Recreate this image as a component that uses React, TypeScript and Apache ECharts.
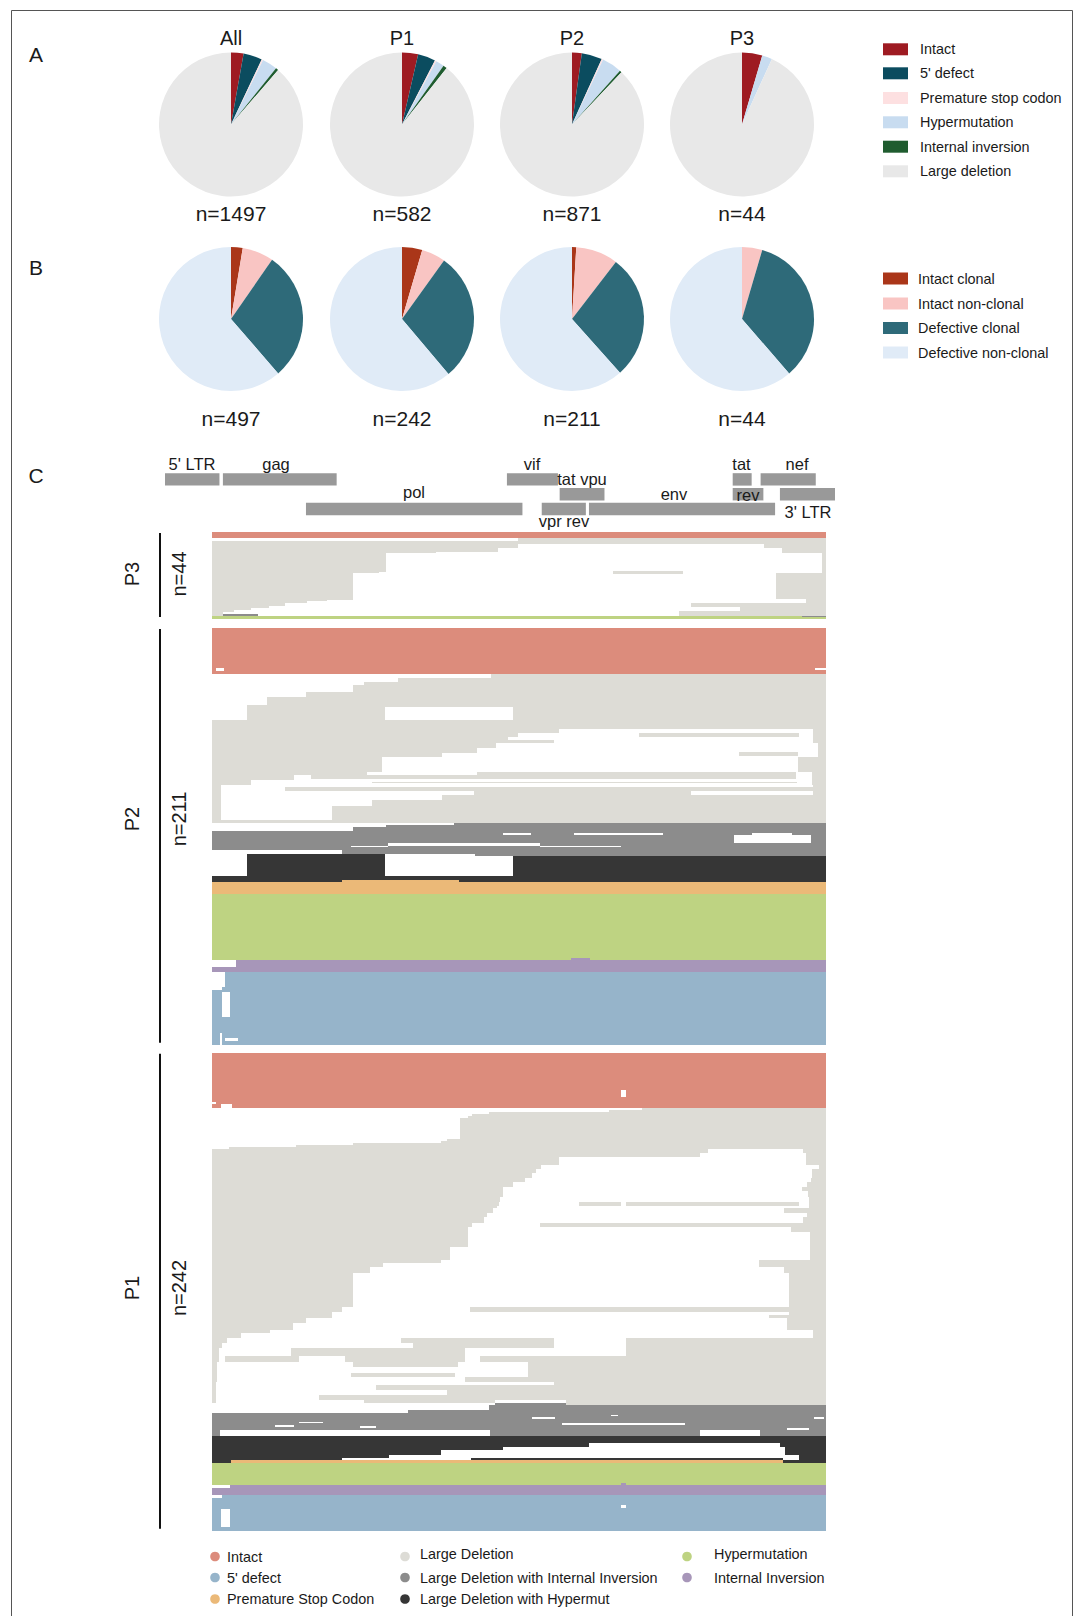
import React, { useEffect, useRef } from "react";
import * as echarts from "echarts";

const FONT = "'Liberation Sans', Arial, Helvetica, sans-serif";

// ---------------- Panel A: sequence categories per participant ----------------
const pieGroups = ["All", "P1", "P2", "P3"];
const catA = ["Intact", "5' defect", "Premature stop codon", "Hypermutation", "Internal inversion", "Large deletion"];
const colA = ["#9e1b22", "#0b4c5f", "#fde0e1", "#c8dcf0", "#1f5c2f", "#e8e8e8"];
const aAll = [42, 63, 5, 51, 9, 1327];
const aP1 = [21, 23, 2, 11, 5, 520];
const aP2 = [19, 40, 3, 39, 4, 766];
const aP3 = [2, 0, 0, 1, 0, 41];

// ---------------- Panel B: clonality ----------------
const catB = ["Intact clonal", "Intact non-clonal", "Defective clonal", "Defective non-clonal"];
const colB = ["#aa3619", "#f9c5c3", "#2e6a79", "#e0ebf7"];
const bAll = [13, 35, 144, 305];
const bP1 = [11, 13, 70, 148];
const bP2 = [2, 20, 59, 130];
const bP3 = [0, 2, 15, 27];

// ---------------- Panel C: genome map ----------------
const GENOME = 9719;
// name, start, end, row, label anchor (bp), label side
const genes: [string, number, number, number, number, string][] = [
  ["5' LTR", 0, 790, 0, 392, "above"],
  ["gag", 840, 2490, 0, 1610, "above"],
  ["vif", 4960, 5700, 0, 5324, "above"],
  ["tat", 8235, 8510, 0, 8363, "above"],
  ["nef", 8640, 9440, 0, 9168, "above"],
  ["tat vpu", 5725, 6375, 1, 6049, "above"],
  ["rev", 8235, 8680, 1, 8456, "inside"],
  ["3' LTR", 8920, 9719, 1, 9327, "below"],
  ["pol", 2045, 5185, 2, 3612, "above"],
  ["vpr rev", 5465, 6105, 2, 5788, "below"],
  ["env", 6150, 8850, 2, 7383, "above"],
];

// ---------------- Panel C: sequence alignment ----------------
const seqCats = [
  "Intact",
  "Large Deletion",
  "Large Deletion with Internal Inversion",
  "Large Deletion with Hypermut",
  "Premature Stop Codon",
  "Hypermutation",
  "Internal Inversion",
  "5' defect",
];
const seqCol = ["#dc8c7c", "#dddcd6", "#8c8c8c", "#363636", "#ebb978", "#bed382", "#a796b9", "#96b4ca"];
const patients = ["P3", "P2", "P1"];
const patientN = [44, 211, 242];

// bands: [rowStart, rowEnd, startBp, endBp, category]  (category -1 = deleted / blank)
const bandsP3: number[][] = [
  [0, 2.85, 0, 9719, 0],
  [3.2, 4.4, 4841, 9719, 1],
  [4.4, 6.2, 0, 9719, 1],
  [6.2, 8.2, 0, 4841, 1], [6.2, 8.2, 8743, 9719, 1],
  [8.2, 9.9, 0, 4530, 1], [8.2, 10.75, 9028, 9719, 1],
  [9.9, 10.75, 0, 3550, 1],
  [10.75, 20.0, 0, 2762, 1],
  [10.75, 20.8, 9650, 9719, 1],
  [19.5, 21.3, 6340, 7460, 1],
  [20.0, 20.8, 0, 2650, 1],
  [20.8, 34.3, 0, 2236, 1],
  [20.8, 33.7, 8920, 9719, 1],
  [33.7, 35.9, 9404, 9719, 1],
  [34.3, 35.1, 0, 1824, 1],
  [35.1, 35.9, 0, 1501, 1],
  [35.9, 37.3, 0, 1150, 1],
  [35.9, 37.9, 7588, 9719, 1],
  [37.3, 38.5, 0, 900, 1],
  [37.9, 40.1, 8360, 9719, 1],
  [38.5, 39.6, 0, 623, 1],
  [39.6, 40.6, 0, 345, 1],
  [40.1, 42.7, 7390, 9719, 1],
  [40.6, 42.7, 0, 170, 1],
  [41.5, 42.7, 170, 735, 2],
  [42.7, 44, 0, 9340, 5],
  [42.3, 43.2, 9340, 9719, 2],
  [43.2, 44, 9340, 9719, 5],
];

const bandsP2: number[][] = [
  [0, 23.5, 0, 9719, 0],
  [20.5, 22.0, 60, 190, -1], [20.5, 21.3, 9550, 9719, -1],
  // large deletion
  [23.5, 25.5, 4420, 9719, 1],
  [25.5, 27.5, 2950, 9719, 1],
  [27.5, 29, 2400, 9719, 1],
  [29, 32.2, 2236, 9719, 1],
  [32.2, 34.8, 1490, 9719, 1],
  [34.8, 39.0, 870, 9719, 1],
  [39.0, 46.6, 550, 9719, 1],
  [46.6, 51.2, 0, 9719, 1],
  [51.2, 53.3, 0, 5500, 1], [51.2, 53.3, 9516, 9719, 1],
  [53.3, 55.4, 0, 4840, 1], [53.3, 55.4, 6762, 9291, 1], [53.3, 55.4, 9516, 9719, 1],
  [55.4, 58.4, 0, 4690, 1], [56.5, 58, 4690, 5420, 1], [55.4, 58.4, 9516, 9719, 1],
  [58.4, 60.9, 0, 4500, 1], [58.4, 60.9, 9600, 9719, 1],
  [60.9, 63.5, 0, 4200, 1], [62.6, 64.6, 8338, 9269, 1], [60.9, 65.2, 9600, 9719, 1],
  [63.5, 65.2, 0, 3640, 1],
  [65.2, 72.7, 0, 2690, 1], [65.2, 72.7, 9269, 9719, 1],
  [72.7, 74.4, 0, 2460, 1], [72.7, 74.4, 4200, 9250, 1], [72.7, 74.4, 9500, 9719, 1],
  [74.4, 77, 0, 1300, 1], [74.4, 76.6, 1560, 9250, 1], [74.4, 77, 9500, 9719, 1],
  [77, 79.5, 0, 625, 1], [77.8, 78.7, 2537, 9254, 1], [77, 79.5, 9500, 9719, 1],
  [79.5, 98.6, 0, 150, 1], [79.5, 98.6, 9516, 9719, 1],
  [80.4, 82.4, 1148, 9704, 1],
  [82.4, 84.6, 4150, 7588, 1],
  [84.6, 87, 3640, 9719, 1],
  [87, 90, 2537, 9719, 1],
  [90, 97.2, 1900, 9719, 1],
  [97.2, 98.6, 0, 9719, 1],
  [39.8, 46.6, 2740, 4758, -1],
  // large deletion with internal inversion
  [98.6, 99.9, 3835, 9719, 2],
  [99.9, 100.6, 2762, 9719, 2],
  [100.6, 102.6, 2236, 9719, 2],
  [102.6, 112.4, 0, 9719, 2],
  [112.4, 114.4, 2050, 9719, 2],
  [114.4, 115.5, 4165, 9719, 2],
  [103.9, 104.8, 4600, 5050, -1], [103.9, 104.8, 5726, 7137, -1], [103.9, 104.8, 8540, 9179, -1],
  [104.8, 109, 8260, 9480, -1],
  [109, 110.2, 2780, 5190, -1],
  [110.2, 111.1, 2200, 2780, -1], [110.2, 111.1, 5190, 6480, -1],
  // large deletion with hypermutation
  [114.4, 125.6, 548, 2740, 3],
  [115.5, 125.6, 4758, 9719, 3],
  [125.6, 128.6, 0, 9719, 3],
  // premature stop
  [127.6, 128.6, 2064, 3910, 4],
  [128.6, 134.7, 0, 9719, 4],
  // hypermutation
  [134.7, 168.1, 0, 9719, 5],
  // internal inversion
  [167.1, 168.1, 5680, 5990, 6],
  [168.1, 171.4, 380, 9719, 6],
  [171.4, 174.2, 0, 9719, 6],
  // 5' defect
  [174.2, 181.6, 210, 9719, 7],
  [181.6, 211, 0, 9719, 7],
  [181.6, 183.3, 0, 165, -1],
  [184.2, 196.8, 165, 285, -1],
  [205.2, 211, 120, 160, -1],
  [207.8, 208.9, 210, 415, -1],
];

const bandsP1: number[][] = [
  [0, 28, 0, 9719, 0],
  [18.9, 22.6, 6476, 6551, -1],
  [24.9, 26, 0, 60, -1], [26, 28, 140, 320, -1],
  // large deletion: 5' staircase
  [28, 29, 6800, 9719, 1],
  [29, 30, 6290, 9719, 1],
  [30, 31, 4390, 9719, 1],
  [31, 32, 4120, 9719, 1],
  [32, 33.1, 4060, 9719, 1],
  [33.1, 43.7, 3920, 9719, 1],
  [43.7, 44.9, 3720, 9719, 1],
  [44.9, 45.9, 3625, 9719, 1],
  [45.9, 46.9, 2236, 9719, 1],
  [46.9, 47.9, 1336, 9719, 1],
  [47.9, 48.8, 270, 9719, 1],
  // internal deletions
  [48.8, 51, 0, 7850, 1], [48.8, 51, 9350, 9719, 1],
  [51, 52.6, 0, 7720, 1], [51, 52.6, 9400, 9719, 1],
  [52.6, 56.9, 0, 5500, 1], [52.6, 56.9, 9400, 9719, 1],
  [56.9, 59.1, 0, 5200, 1], [56.9, 59.1, 9610, 9719, 1],
  [59.1, 61.1, 0, 5126, 1], [59.1, 63.6, 9500, 9719, 1],
  [61.1, 63.6, 0, 5066, 1],
  [63.6, 65.3, 0, 4960, 1], [63.6, 65.3, 9480, 9719, 1],
  [65.3, 67.9, 0, 4765, 1], [65.3, 67.9, 9420, 9719, 1],
  [67.9, 72.9, 0, 4600, 1], [67.9, 70, 9340, 9719, 1], [70, 72.9, 9440, 9719, 1],
  [72.9, 75.4, 0, 4563, 1], [72.9, 78.8, 9450, 9719, 1],
  [75.4, 77.5, 0, 4540, 1], [75.4, 77.5, 5809, 6476, 1], [75.4, 77.5, 6551, 9291, 1],
  [77.5, 78.8, 0, 4510, 1],
  [78.8, 81.3, 0, 4450, 1], [78.8, 81.3, 9050, 9719, 1],
  [81.3, 83, 0, 4350, 1], [81.3, 83, 9420, 9719, 1],
  [83, 86.4, 0, 4310, 1], [83, 86.4, 9350, 9719, 1],
  [86.4, 88.5, 0, 4120, 1], [86.4, 88.5, 5186, 9719, 1],
  [88.5, 90.6, 0, 4060, 1], [88.5, 90.6, 9160, 9719, 1],
  [90.6, 98.2, 0, 4060, 1], [90.6, 105, 9470, 9719, 1],
  [98.2, 105, 0, 3775, 1],
  [105, 106.7, 0, 3625, 1], [105, 108.4, 8653, 9719, 1],
  [106.7, 108.4, 0, 2710, 1],
  [108.4, 111.7, 0, 2500, 1], [108.4, 111.7, 9050, 9719, 1],
  [111.7, 128.6, 0, 2236, 1], [111.7, 131.2, 9126, 9719, 1],
  [128.6, 131.2, 0, 2064, 1], [128.6, 131.2, 4090, 9126, 1],
  [131.2, 134.5, 0, 1900, 1], [131.2, 133, 9126, 9719, 1], [133, 134.5, 8818, 9719, 1],
  [134.5, 137.1, 0, 1486, 1], [134.5, 140.4, 9100, 9719, 1],
  [137.1, 140.4, 0, 1283, 1],
  [140.4, 142, 0, 923, 1], [140.4, 144.7, 9516, 9719, 1],
  [142, 144.7, 0, 458, 1],
  [144.7, 147.2, 0, 233, 1], [144.7, 147.2, 2995, 5411, 1], [144.7, 147.2, 6550, 9719, 1],
  [147.2, 149.7, 0, 158, 1], [147.2, 149.7, 3175, 5411, 1], [147.2, 149.7, 6550, 9719, 1],
  [149.7, 153.6, 0, 113, 1], [149.7, 153.6, 1245, 4000, 1], [149.7, 153.6, 6550, 9719, 1],
  [153.6, 156.5, 0, 113, 1], [153.6, 156.5, 208, 1373, 1], [153.6, 156.5, 2098, 4000, 1], [153.6, 156.5, 4240, 9719, 1],
  [156.5, 159, 0, 80, 1], [156.5, 159, 2236, 3900, 1], [156.5, 159, 5000, 9719, 1],
  [159, 162, 0, 80, 1], [159, 162, 5000, 9719, 1],
  [162, 164.1, 0, 80, 1], [162, 164.1, 2200, 3850, 1], [162, 164.1, 5000, 9719, 1],
  [164.1, 166.6, 0, 80, 1], [164.1, 166.6, 4000, 9719, 1],
  [166.6, 168.3, 0, 60, 1], [166.6, 168.3, 5411, 9719, 1],
  [168.3, 170.8, 0, 60, 1], [168.3, 170.8, 2600, 9719, 1],
  [170.8, 173.4, 0, 60, 1], [170.8, 173.4, 3720, 9719, 1],
  [173.4, 175.9, 0, 60, 1], [173.4, 175.9, 1700, 9719, 1],
  [175.9, 177.2, 0, 60, 1], [175.9, 177.2, 2400, 4487, 1], [175.9, 177.2, 5600, 9719, 1],
  [177.2, 178.4, 5600, 9719, 1],
  // large deletion with internal inversion
  [177.2, 178.4, 4487, 5600, 2],
  [178.4, 182.3, 4390, 9719, 2],
  [181, 182.3, 3100, 4390, 2],
  [182.3, 191, 0, 9719, 2],
  [191, 194.4, 0, 120, 2], [191, 194.4, 4400, 7720, 2], [191, 194.4, 8680, 9719, 2],
  [183.3, 184, 6310, 6430, -1], [184.4, 185.5, 5073, 5426, -1], [184.4, 185.5, 9530, 9680, -1],
  [186.8, 187.6, 1373, 1764, -1], [187.7, 188.7, 5540, 7490, -1], [188.5, 189.5, 1000, 1300, -1],
  [189, 190, 2350, 2600, -1], [190.2, 191.2, 9100, 9450, -1],
  // large deletion with hypermutation
  [194.1, 197.8, 0, 9719, 3],
  [197.8, 199.5, 0, 5974, 3], [197.8, 199.5, 8991, 9719, 3],
  [199.5, 201.2, 0, 4600, 3], [199.5, 203.7, 9066, 9719, 3],
  [201.2, 203.7, 0, 3625, 3],
  [203.7, 205.4, 0, 2800, 3], [203.7, 207.6, 9291, 9719, 3],
  [205.4, 206.2, 0, 2064, 3], [205.4, 206.2, 4100, 9040, 3],
  [206.2, 207.6, 0, 300, 3], [206.2, 207.6, 9040, 9291, 3],
  // premature stop
  [206.2, 207.6, 300, 9040, 4],
  // hypermutation
  [207.6, 218.9, 0, 9719, 5],
  [218.0, 218.9, 6476, 6551, 6],
  // internal inversion
  [218.9, 224, 0, 9719, 6],
  [218.9, 220.4, 0, 280, -1],
  // 5' defect
  [224, 242, 0, 9719, 7],
  [224, 225.5, 0, 160, -1],
  [229, 230.7, 6476, 6551, -1],
  [231.2, 240.2, 135, 285, -1],
];

const patientBands = [bandsP3, bandsP2, bandsP1];

const sum = (a: number[]) => a.reduce((s, v) => s + v, 0);

function buildOption() {
  const txt = (text: string, x: number, y: number, size: number, align = "center", vAlign = "middle", extra: any = {}) => ({
    type: "text",
    x,
    y,
    silent: true,
    ...extra,
    style: {
      text,
      x: 0,
      y: 0,
      fill: "#1a1a1a",
      font: `${size}px ${FONT}`,
      textAlign: align,
      align,
      textVerticalAlign: vAlign,
      verticalAlign: vAlign,
    },
  });

  const pieCx = [231, 402, 572, 742];
  const yA = 124.5;
  const yB = 319;
  const R = 72;
  const aData = [aAll, aP1, aP2, aP3];
  const bData = [bAll, bP1, bP2, bP3];

  const series: any[] = [];
  aData.forEach((vals, i) => {
    series.push({
      type: "pie",
      center: [pieCx[i], yA],
      radius: [0, R],
      startAngle: 90,
      clockwise: true,
      silent: true,
      label: { show: false },
      labelLine: { show: false },
      itemStyle: { borderWidth: 0 },
      data: vals.map((v, k) => ({ name: catA[k], value: v, itemStyle: { color: colA[k] } })),
    });
  });
  bData.forEach((vals, i) => {
    series.push({
      type: "pie",
      center: [pieCx[i], yB],
      radius: [0, R],
      startAngle: 90,
      clockwise: true,
      silent: true,
      label: { show: false },
      labelLine: { show: false },
      itemStyle: { borderWidth: 0 },
      data: vals.map((v, k) => ({ name: catB[k], value: v, itemStyle: { color: colB[k] } })),
    });
  });

  // grids: 0 genome map, 1..3 patients
  const plotLeft = 212;
  const plotWidth = 614;
  const rowPx = 1.975;
  const pTops = [532, 628, 1052.7];
  const grid: any[] = [{ left: 165, top: 472, width: 670, height: 44.4 }];
  const xAxis: any[] = [{ gridIndex: 0, type: "value", min: 0, max: GENOME, show: false }];
  const yAxis: any[] = [{ gridIndex: 0, type: "value", min: 0, max: 3, inverse: true, show: false }];
  patients.forEach((p, i) => {
    grid.push({ left: plotLeft, top: pTops[i], width: plotWidth, height: patientN[i] * rowPx });
    xAxis.push({ gridIndex: i + 1, type: "value", min: 0, max: GENOME, show: false });
    yAxis.push({ gridIndex: i + 1, type: "value", min: 0, max: patientN[i], inverse: true, show: false });
  });

  // small vertical nudges for some gene labels (layout only)
  const labelDy: Record<string, number> = { "vpr rev": -3.5, "3' LTR": 2.5, pol: -2 };

  series.push({
    type: "custom",
    xAxisIndex: 0,
    yAxisIndex: 0,
    silent: true,
    data: genes.map((g) => [g[1], g[2], g[3], g[4]]),
    encode: { x: [0, 1], y: 2 },
    renderItem: (params: any, api: any) => {
      const g = genes[params.dataIndex];
      const p0 = api.coord([g[1], g[3] + 0.08]);
      const p1 = api.coord([g[2], g[3] + 0.92]);
      const lx = api.coord([g[4], 0])[0];
      let ly = p0[1] - 0.5;
      let va = "bottom";
      if (g[5] === "below") {
        ly = p1[1] + 0.5;
        va = "top";
      } else if (g[5] === "inside") {
        ly = (p0[1] + p1[1]) / 2 + 0.5;
        va = "middle";
      }
      ly += labelDy[g[0]] || 0;
      return {
        type: "group",
        children: [
          {
            type: "rect",
            shape: { x: p0[0], y: p0[1], width: p1[0] - p0[0], height: p1[1] - p0[1] },
            style: { fill: "#999999" },
          },
          {
            type: "text",
            style: {
              text: g[0],
              x: lx,
              y: ly,
              fill: "#1a1a1a",
              font: `16.5px ${FONT}`,
              align: "center",
              verticalAlign: va,
              textAlign: "center",
              textVerticalAlign: va,
            },
          },
        ],
      };
    },
  });

  patientBands.forEach((bands, i) => {
    const ordered = bands.filter((b) => b[4] >= 0).concat(bands.filter((b) => b[4] < 0));
    series.push({
      type: "custom",
      xAxisIndex: i + 1,
      yAxisIndex: i + 1,
      silent: true,
      data: ordered.map((b) => [b[2], b[3], b[0], b[1], b[4]]),
      encode: { x: [0, 1], y: [2, 3] },
      renderItem: (params: any, api: any) => {
        const p0 = api.coord([api.value(0), api.value(2)]);
        const p1 = api.coord([api.value(1), api.value(3)]);
        const c = api.value(4);
        const x0 = Math.round(p0[0]);
        const x1 = Math.max(x0 + 1, Math.round(p1[0]));
        const y0 = Math.round(p0[1]);
        const y1 = Math.max(y0 + 1, Math.round(p1[1]));
        return {
          type: "rect",
          shape: { x: x0, y: y0, width: x1 - x0, height: y1 - y0 },
          style: { fill: c < 0 ? "#ffffff" : seqCol[c] },
        };
      },
    });
  });

  // graphics
  const el: any[] = [];
  el.push({
    type: "rect",
    silent: true,
    shape: { x: 11.5, y: 10.5, width: 1061, height: 1640 },
    style: { fill: "none", stroke: "#555", lineWidth: 1 },
  });
  el.push(txt("A", 36, 54, 21));
  el.push(txt("B", 36, 267, 21));
  el.push(txt("C", 36, 475, 21));
  pieGroups.forEach((g, i) => {
    el.push(txt(g, pieCx[i], 38, 20));
    el.push(txt("n=" + sum(aData[i]), pieCx[i], 213, 21));
    el.push(txt("n=" + sum(bData[i]), pieCx[i], 418, 21));
  });
  const legAy = [49.3, 73.3, 98, 122.3, 146.7, 171.3];
  catA.forEach((c, k) => {
    el.push({ type: "rect", silent: true, shape: { x: 883, y: legAy[k] - 6, width: 25, height: 12 }, style: { fill: colA[k] } });
    el.push(txt(c, 920, legAy[k], 14.4, "left"));
  });
  const legBy = [278.5, 303.5, 328, 352.5];
  catB.forEach((c, k) => {
    el.push({ type: "rect", silent: true, shape: { x: 883, y: legBy[k] - 6, width: 25, height: 12 }, style: { fill: colB[k] } });
    el.push(txt(c, 918, legBy[k], 14.4, "left"));
  });

  // patient labels
  const labelMid = [574, 819, 1288];
  patients.forEach((p, i) => {
    const top = pTops[i];
    const h = patientN[i] * rowPx;
    el.push({ type: "line", silent: true, shape: { x1: 160, y1: top + 1, x2: 160, y2: top + h - 2 }, style: { stroke: "#111", lineWidth: 2 } });
    el.push(txt(p, 132, labelMid[i], 20, "center", "middle", { rotation: Math.PI / 2 }));
    el.push(txt("n=" + patientN[i], 179, labelMid[i], 20, "center", "middle", { rotation: Math.PI / 2 }));
  });

  // bottom legend
  const legCx = [215, 405, 687];
  const legTx = [227, 420, 714];
  const legRows = [1556.5, 1577.5, 1599];
  const legOrder = [
    [0, 0, 0], [7, 0, 1], [4, 0, 2],
    [1, 1, 0], [2, 1, 1], [3, 1, 2],
    [5, 2, 0], [6, 2, 1],
  ];
  legOrder.forEach(([c, col, row]) => {
    el.push({ type: "circle", silent: true, shape: { cx: legCx[col], cy: legRows[row], r: 4.8 }, style: { fill: seqCol[c] } });
    el.push(txt(seqCats[c], legTx[col], legRows[row] - (row === 0 && col > 0 ? 2.5 : 0), 14.4, "left"));
  });

  return {
    animation: false,
    backgroundColor: "#ffffff",
    grid,
    xAxis,
    yAxis,
    series,
    graphic: { elements: el },
  };
}

export default function App() {
  const ref = useRef<HTMLDivElement>(null);
  useEffect(() => {
    if (!ref.current) return;
    const chart = echarts.init(ref.current, null, { renderer: "svg", width: 1083, height: 1616 });
    chart.setOption(buildOption() as any);
    return () => chart.dispose();
  }, []);
  return (
    <div
      ref={ref}
      style={{ position: "absolute", left: 0, top: 0, width: 1083, height: 1616, background: "#fff" }}
    />
  );
}
